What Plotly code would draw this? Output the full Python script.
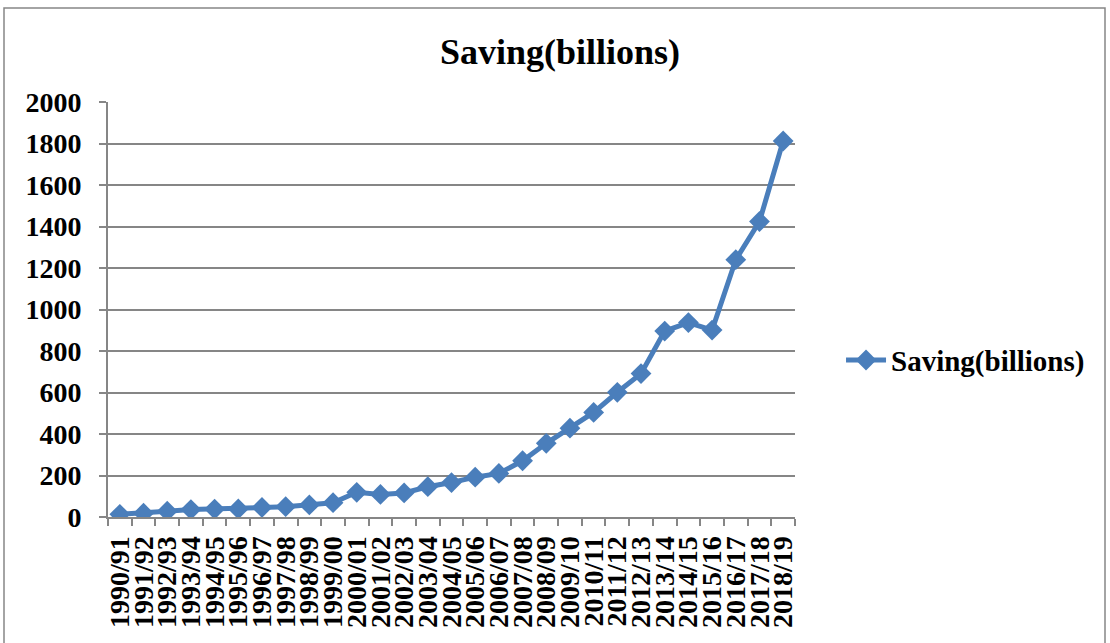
import plotly.graph_objects as go

# Fiscal years and savings (billions)
years = [
    "1990/91", "1991/92", "1992/93", "1993/94", "1994/95", "1995/96",
    "1996/97", "1997/98", "1998/99", "1999/00", "2000/01", "2001/02",
    "2002/03", "2003/04", "2004/05", "2005/06", "2006/07", "2007/08",
    "2008/09", "2009/10", "2010/11", "2011/12", "2012/13", "2013/14",
    "2014/15", "2015/16", "2016/17", "2017/18", "2018/19",
]
saving = [
    13, 18, 28, 36, 38, 39, 46, 50, 58, 69, 119, 109,
    116, 146, 166, 192, 210, 271, 355, 428, 504, 601, 691, 896,
    937, 901, 1240, 1424, 1812,
]
y_ticks = list(range(0, 2001, 200))

SERIES = "Saving(billions)"
FONT = "Liberation Serif, Times New Roman, serif"
BLUE = "#4A7EBB"
GRAY = "#868686"

fig = go.Figure()
fig.add_trace(go.Scatter(
    x=years,
    y=saving,
    name=SERIES,
    mode="lines+markers",
    line=dict(color=BLUE, width=5),
    marker=dict(symbol="diamond", size=16, color=BLUE),
))

fig.update_layout(
    width=1110,
    height=643,
    margin=dict(l=108, r=315, t=102, b=126),
    paper_bgcolor="white",
    plot_bgcolor="white",
    font=dict(family=FONT, color="black", size=28, weight="bold"),
    title=dict(
        text=SERIES,
        x=560 / 1110,
        xanchor="center",
        xref="container",
        y=1 - 51 / 643,
        yanchor="middle",
        yref="container",
        font=dict(family=FONT, size=36, weight="bold", color="black"),
    ),
    showlegend=True,
    legend=dict(
        x=1.067,
        xanchor="left",
        y=0.378,
        yanchor="middle",
        font=dict(family=FONT, size=29, weight="bold", color="black"),
        bgcolor="rgba(0,0,0,0)",
        itemwidth=40,
    ),
    xaxis=dict(
        type="category",
        range=[-0.5, len(years) - 0.5],
        tickmode="array",
        tickvals=years,
        ticktext=years,
        tickangle=-90,
        tickson="boundaries",
        ticks="outside",
        ticklen=7,
        tickwidth=1.5,
        tickcolor=GRAY,
        showline=True,
        linecolor=GRAY,
        linewidth=2,
        showgrid=False,
        ticklabelstandoff=6,
        tickfont=dict(family=FONT, size=28, weight="bold", color="black"),
        fixedrange=True,
    ),
    yaxis=dict(
        range=[0, 2000],
        tickvals=y_ticks,
        ticktext=[str(v) for v in y_ticks],
        ticks="outside",
        ticklen=7,
        tickwidth=1.5,
        tickcolor=GRAY,
        showline=True,
        linecolor=GRAY,
        linewidth=2,
        showgrid=True,
        gridcolor=GRAY,
        gridwidth=2,
        zeroline=False,
        ticklabelstandoff=12,
        tickfont=dict(family=FONT, size=28, weight="bold", color="black"),
        fixedrange=True,
    ),
    shapes=[
        # outer chart frame
        dict(
            type="rect",
            xref="paper", yref="paper",
            x0=(4 - 108) / 687, x1=(1105 - 108) / 687,
            y0=(517 - 660) / 415, y1=(517 - 8) / 415,
            line=dict(color=GRAY, width=1.5),
            fillcolor="rgba(0,0,0,0)",
            layer="below",
        )
    ],
)

fig.write_html("out.html")
